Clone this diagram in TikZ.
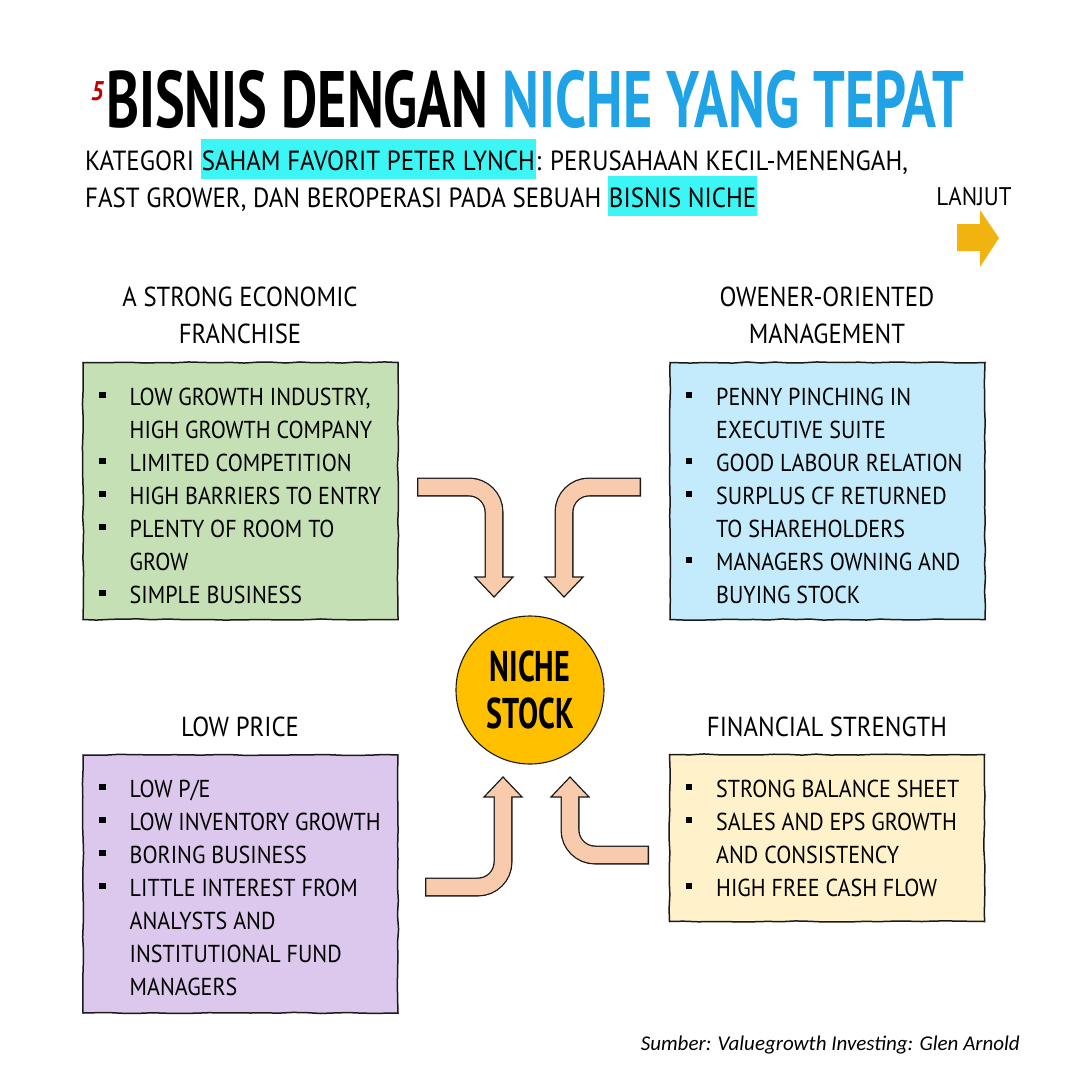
\documentclass[tikz,border=0pt]{standalone}
\usepackage{fontspec}
\setmainfont[FakeStretch=0.9]{PT Sans}
\newfontfamily\titlefont[FakeStretch=0.7]{PT Sans}
\newfontfamily\srcfont{Carlito}
\usetikzlibrary{calc,decorations.pathmorphing}
\definecolor{boxgreen}{HTML}{C5E0B4}
\definecolor{boxblue}{HTML}{C4EBFB}
\definecolor{boxpurple}{HTML}{DBC8EC}
\definecolor{boxyellow}{HTML}{FFF1CA}
\definecolor{nicheorange}{HTML}{FFC000}
\definecolor{peach}{HTML}{F8CBAD}
\definecolor{titleblue}{HTML}{1FA3E6}
\definecolor{hlcyan}{HTML}{3CF5F5}
\definecolor{lanjutgold}{HTML}{F0B310}
\definecolor{redfive}{HTML}{C00000}
\definecolor{inkline}{HTML}{1A1A1A}
\newcommand\myhl[1]{{\setlength\fboxsep{0pt}\colorbox{hlcyan}{\rule[-9pt]{0pt}{40pt}\hspace{1pt}#1\hspace{1pt}}}}
\newcommand\bitem[4]{%
  \node[bsq] (#1b) at (#2,#3-10) {};
  \node[itemtxt, anchor=base west] (#1) at (#2+27,#3) {#4};}
\newcommand\citem[4]{%
  \node[itemtxt, anchor=base west] (#1) at (#2+27,#3) {#4};}
\newcommand\myarrow[4]{%
  \draw[arrowout] (#1) -- (#2) -- (#3);
  \draw[arrowhd] ($(#3)!19pt!90:(#4)$) -- (#4) -- ($(#3)!19pt!-90:(#4)$) -- cycle;
  \draw[arrowin] ($(#1)!1.3pt!(#2)$) -- (#2) -- ($(#3)!1.6pt!(#4)$);}
\begin{document}
\begin{tikzpicture}[x=1pt,y=-1pt,
  box/.style={draw=inkline, line width=1.5pt, minimum width=315pt, inner sep=0pt,
    decorate, decoration={random steps, segment length=14pt, amplitude=0.6pt}},
  itemtxt/.style={inner sep=0pt, font=\fontsize{24.5}{30}\selectfont, text=black},
  headtxt/.style={inner sep=0pt, font=\fontsize{27.5}{30}\selectfont, text=black, anchor=base},
  subtxt/.style={inner sep=0pt, anchor=base west, font=\fontsize{27.7}{30}\selectfont},
  bsq/.style={fill=black, minimum size=6.5pt, inner sep=0pt},
  arrowout/.style={draw=inkline, line width=19pt, rounded corners=25pt},
  arrowin/.style={draw=peach, line width=16.4pt, rounded corners=25pt},
  arrowhd/.style={fill=peach, draw=inkline, line width=1.2pt, line join=miter}]
\useasboundingbox (0,0) rectangle (1080,1080);
\fill[white] (0,0) rectangle (1080,1080);

% title
\node[inner sep=0pt, anchor=base west, font=\titlefont\bfseries\fontsize{80}{86}\selectfont] (title) at (106,127)
  {BISNIS DENGAN \textcolor{titleblue}{NICHE YANG TEPAT}};
\node[inner sep=0pt, anchor=base east, text=redfive, font=\bfseries\itshape\fontsize{27}{27}\selectfont] (five) at (104,100) {5};

% subtitle
\node[subtxt] (sub1) at (85,170)
  {KATEGORI \myhl{SAHAM FAVORIT PETER LYNCH}: PERUSAHAAN KECIL-MENENGAH,};
\node[subtxt] (sub2) at (85,207)
  {FAST GROWER, DAN BEROPERASI PADA SEBUAH \myhl{BISNIS NICHE}};

% lanjut
\node[inner sep=0pt, anchor=base, font=\fontsize{25.5}{30}\selectfont] (lanjut) at (974,205) {LANJUT};
\fill[lanjutgold] (957,224) -- (980,224) -- (980,210) -- (999,238) -- (980,267) -- (980,251) -- (957,251) -- cycle;

% headings
\node[headtxt] (h1a) at (240,306) {A STRONG ECONOMIC};
\node[headtxt] (h1b) at (240,343) {FRANCHISE};
\node[headtxt] (h2a) at (827,306) {OWENER-ORIENTED};
\node[headtxt] (h2b) at (827,343) {MANAGEMENT};
\node[headtxt] (h3) at (240,736) {LOW PRICE};
\node[headtxt] (h4) at (827,736) {FINANCIAL STRENGTH};

% boxes
\node[box, fill=boxgreen, minimum height=257pt] (bx1) at (240.5,491) {};
\node[box, fill=boxblue, minimum height=257pt] (bx2) at (827.5,491) {};
\node[box, fill=boxpurple, minimum height=258pt] (bx3) at (240.5,884) {};
\node[box, fill=boxyellow, minimum height=167pt] (bx4) at (827,838) {};

% box 1 items
\bitem{a1}{102.5}{405}{LOW GROWTH INDUSTRY,}
\citem{a2}{102.5}{438}{HIGH GROWTH COMPANY}
\bitem{a3}{102.5}{471}{LIMITED COMPETITION}
\bitem{a4}{102.5}{504}{HIGH BARRIERS TO ENTRY}
\bitem{a5}{102.5}{537}{PLENTY OF ROOM TO}
\citem{a6}{102.5}{570}{GROW}
\bitem{a7}{102.5}{603}{SIMPLE BUSINESS}
% box 2 items
\bitem{m1}{689}{405}{PENNY PINCHING IN}
\citem{m2}{689}{438}{EXECUTIVE SUITE}
\bitem{m3}{689}{471}{GOOD LABOUR RELATION}
\bitem{m4}{689}{504}{SURPLUS CF RETURNED}
\citem{m5}{689}{537}{TO SHAREHOLDERS}
\bitem{m6}{689}{570}{MANAGERS OWNING AND}
\citem{m7}{689}{603}{BUYING STOCK}
% box 3 items
\bitem{p1}{102.5}{797}{LOW P/E}
\bitem{p2}{102.5}{830}{LOW INVENTORY GROWTH}
\bitem{p3}{102.5}{863}{BORING BUSINESS}
\bitem{p4}{102.5}{896}{LITTLE INTEREST FROM}
\citem{p5}{102.5}{929}{ANALYSTS AND}
\citem{p6}{102.5}{962}{INSTITUTIONAL FUND}
\citem{p7}{102.5}{995}{MANAGERS}
% box 4 items
\bitem{f1}{689}{797}{STRONG BALANCE SHEET}
\bitem{f2}{689}{830}{SALES AND EPS GROWTH}
\citem{f3}{689}{863}{AND CONSISTENCY}
\bitem{f4}{689}{896}{HIGH FREE CASH FLOW}

% center
\node[circle, minimum size=148pt, fill=nicheorange, draw=inkline, line width=1.1pt, inner sep=0pt,
  align=center, font=\titlefont\bfseries\fontsize{43}{47}\selectfont] (niche) at (530,690) {NICHE\\STOCK};

% arrows
\coordinate (t1) at (417,487); \coordinate (c1) at (494,487); \coordinate (e1) at (494,577); \coordinate (k1) at (494,597);
\coordinate (t2) at (641,487); \coordinate (c2) at (564,487); \coordinate (e2) at (564,577); \coordinate (k2) at (564,597);
\coordinate (t3) at (425,887); \coordinate (c3) at (503,887); \coordinate (e3) at (503,797); \coordinate (k3) at (503,777);
\coordinate (t4) at (649,855); \coordinate (c4) at (570,855); \coordinate (e4) at (570,797); \coordinate (k4) at (570,777);
\myarrow{t1}{c1}{e1}{k1}
\myarrow{t2}{c2}{e2}{k2}
\myarrow{t3}{c3}{e3}{k3}
\myarrow{t4}{c4}{e4}{k4}

% source
\node[inner sep=0pt, anchor=base east, font=\srcfont\itshape\fontsize{21}{24}\selectfont] (src) at (1020,1050)
  {Sumber: Valuegrowth Investing: Glen Arnold};
\end{tikzpicture}
\end{document}
